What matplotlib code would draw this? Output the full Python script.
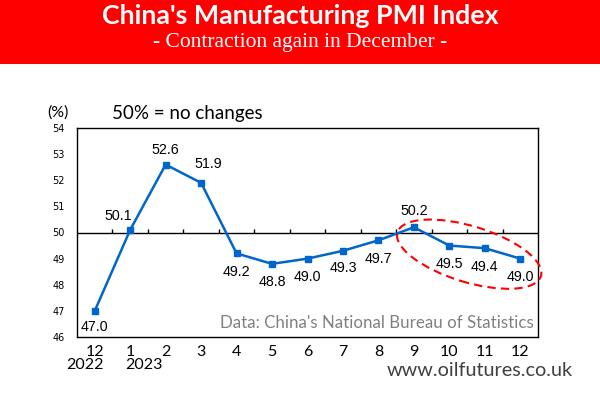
import matplotlib
matplotlib.use("Agg")
import matplotlib.pyplot as plt
from matplotlib.patches import Ellipse, Rectangle
import matplotlib.transforms as mtransforms
import numpy as np

months = ["12", "1", "2", "3", "4", "5", "6", "7", "8", "9", "10", "11", "12"]
pmi = [47.0, 50.1, 52.6, 51.9, 49.2, 48.8, 49.0, 49.3, 49.7, 50.2, 49.5, 49.4, 49.0]
years = ["2022", "2023"]
year_pos = [-0.27, 1.38]
yticks = [46, 47, 48, 49, 50, 51, 52, 53, 54]
label_offsets = [(0, -16), (-12, 14), (0, 15), (7, 19), (0, -19), (0, -18), (0, -18),
                 (0, -17), (0, -19), (0, 16), (0, -18), (0, -19), (0, -18)]

fig = plt.figure(figsize=(6, 4), dpi=100)
fig.patch.set_facecolor("white")

# Red title band
fig.patches.append(Rectangle((0, 1 - 64 / 400), 1, 64 / 400, transform=fig.transFigure,
                             facecolor="#FF0000", edgecolor="none", zorder=0))
fig.text(0.5, 1 - 16 / 400, "China's Manufacturing PMI Index", ha="center", va="center",
         color="white", fontsize=19.3, fontweight="bold", family="Lato")
fig.text(0.5, 1 - 42 / 400, "- Contraction again in December -", ha="center", va="center",
         color="white", fontsize=15.5, family="Liberation Serif")

ax = fig.add_axes([77 / 600, 63 / 400, 461 / 600, 209 / 400])
x = np.arange(len(months))
ax.plot(x, pmi, color="#0066CC", lw=1.8, marker="s", ms=5, zorder=3)
ax.set_xlim(-0.5, len(months) - 0.5)
ax.set_ylim(yticks[0], yticks[-1])
ax.axhline(50, color="black", lw=1, zorder=2)
ax.vlines(np.arange(len(months) - 1) + 0.5, 50, 50.12, color="black", lw=1, zorder=2)

ax.set_yticks(yticks)
ax.set_yticklabels([str(t) for t in yticks], fontsize=7, family="Liberation Sans Narrow")
ax.tick_params(axis="y", length=0, pad=9)
ax.set_xticks(x)
ax.set_xticklabels(months, fontsize=11.5, family="Lato")
ax.tick_params(axis="x", length=0, pad=6)
for s in ax.spines.values():
    s.set_linewidth(1)
    s.set_color("black")

for i, (v, off) in enumerate(zip(pmi, label_offsets)):
    ax.annotate(f"{v:.1f}", (x[i], v), xytext=(off[0] * 0.72, off[1] * 0.72),
                textcoords="offset points", ha="center", va="center",
                fontsize=10.3, family="Liberation Sans", color="black")

trans = mtransforms.blended_transform_factory(ax.transData, fig.transFigure)
for yr, p in zip(years, year_pos):
    fig.text(p, 1 - 365 / 400, yr, transform=trans, ha="center", va="center",
             fontsize=11.5, family="Lato")

fig.text(58 / 600, 1 - 113 / 400, "(%)", ha="center", va="center", fontsize=11.5, family="Lato")
fig.text(112 / 600, 1 - 114 / 400, "50% = no changes", ha="left", va="center",
         fontsize=13.5, family="Lato")

ax.text(0.991, 0.067, "Data: China's National Bureau of Statistics", transform=ax.transAxes,
        ha="right", va="center", fontsize=12.2, color="#808080", family="Lato")

fig.text(573 / 600, 1 - 370 / 400, "www.oilfutures.co.uk", ha="right", va="center",
         fontsize=14.3, color="#404040", family="Lato")

# dashed ellipse around last four months (display pixel coords)
fig.canvas.draw()
cx, cy = ax.transData.transform((10.56, 49.17))
ell = Ellipse((cx, cy), 150, 56, angle=-17, transform=mtransforms.IdentityTransform(),
              fill=False, edgecolor="#FF0000", lw=1.5, ls=(0, (4, 2.5)), zorder=4)
fig.patches.append(ell)

fig.savefig("out.png", dpi=100)
